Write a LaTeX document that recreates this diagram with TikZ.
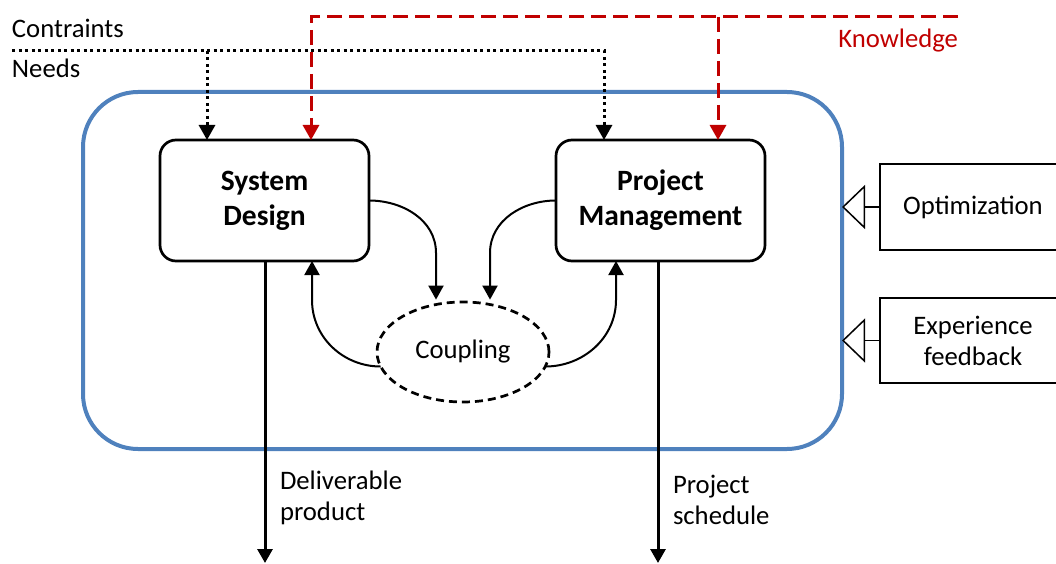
\documentclass[tikz,border=0pt]{standalone}
\usepackage{fontspec}
\setmainfont{Carlito}
\usetikzlibrary{arrows.meta,shapes.geometric,calc}
\definecolor{kred}{RGB}{192,0,0}
\definecolor{sysblue}{RGB}{79,129,189}
\begin{document}
\begin{tikzpicture}[x=1pt,y=1pt,
  every node/.style={inner sep=0pt, outer sep=0pt},
  txt/.style={font=\fontsize{26.7}{31}\selectfont},
  proc/.style={draw, line width=2.7pt, rounded corners=16pt, minimum width=209pt, minimum height=121pt, align=center, font=\bfseries\fontsize{29.5}{35}\selectfont},
  ext/.style={draw, line width=1.5pt, minimum width=186pt, align=center, font=\fontsize{26.7}{31}\selectfont},
  arr/.style={line width=2pt, -{Triangle[length=14pt,width=15pt]}},
  outarr/.style={line width=3pt, -{Triangle[length=14pt,width=15pt]}},
  kline/.style={kred, line width=3pt, dash pattern=on 15pt off 7pt, -{Triangle[length=15pt,width=16pt]}},
  dline/.style={line width=3pt, dash pattern=on 3pt off 3.5pt, -{Triangle[length=15pt,width=16pt]}},
  feed/.style={line width=1.5pt, -{Triangle[open,length=23pt,width=44pt,fill=white]}}
]
\useasboundingbox (0,0) rectangle (1056,563);
% system boundary
\node[draw=sysblue, line width=4pt, rounded corners=55pt, minimum width=759pt, minimum height=357pt] (sys) at (462.5,292.5) {};
% processes
\node[proc] (sd) at (264.5,362.5) {System\\Design};
\node[proc] (pm) at (660.5,362.5) {Project\\Management};
\node[draw, ellipse, line width=2.7pt, dash pattern=on 8pt off 5pt, minimum width=172pt, minimum height=100pt, txt] (cpl) at (463,211) {Coupling};
% external boxes
\node[ext, minimum height=86pt] (opt) at (973,356) {Optimization};
\node[ext, minimum height=85pt] (exp) at (973,222.5) {Experience\\feedback};
\draw[feed] (opt.west) -- (opt.west -| sys.east);
\draw[feed] (exp.west) -- (exp.west -| sys.east);
% inputs
\node[txt, anchor=base west] (ctr) at (12,525) {Contraints};
\node[txt, anchor=base west] (nds) at (12,485) {Needs};
\node[txt, anchor=base east, text=kred] (kno) at (958,515) {Knowledge};
\coordinate (c0) at (12,512);
\coordinate (c1) at (207,512);
\coordinate (c2) at (604,512);
\draw[dline] (c0) -- (c2) -- (c2 |- pm.north);
\draw[dline] (c1) -- (c1 |- sd.north);
\coordinate (k0) at (958,546);
\coordinate (k1) at (311,546);
\coordinate (k2) at (718,546);
\draw[kline] (k0) -- (k1) -- (k1 |- sd.north);
\draw[kline] (k2) -- (k2 |- pm.north);
% coupling loops
\coordinate (a1) at (436,310);
\coordinate (a2) at (490,310);
\coordinate (b1) at (312,263);
\coordinate (b2) at (616,263);
\draw[arr, shorten >=5pt] (sd.east) to[out=0,in=90] (a1) -- (a1 |- cpl.120);
\draw[arr, shorten >=5pt] (pm.west) to[out=180,in=90] (a2) -- (a2 |- cpl.60);
\draw[arr] (cpl.190) to[out=180,in=-90] (b1) -- (b1 |- sd.south);
\draw[arr] (cpl.-10) to[out=0,in=-90] (b2) -- (b2 |- pm.south);
% outputs
\coordinate (o1) at (265,0);
\coordinate (o2) at (658,0);
\draw[outarr] (o1 |- sd.south) -- (o1);
\draw[outarr] (o2 |- pm.south) -- (o2);
\node[txt, anchor=west, align=left] (dp) at (280,65.5) {Deliverable\\product};
\node[txt, anchor=west, align=left] (ps) at (673,63.5) {Project\\schedule};
\end{tikzpicture}
\end{document}
